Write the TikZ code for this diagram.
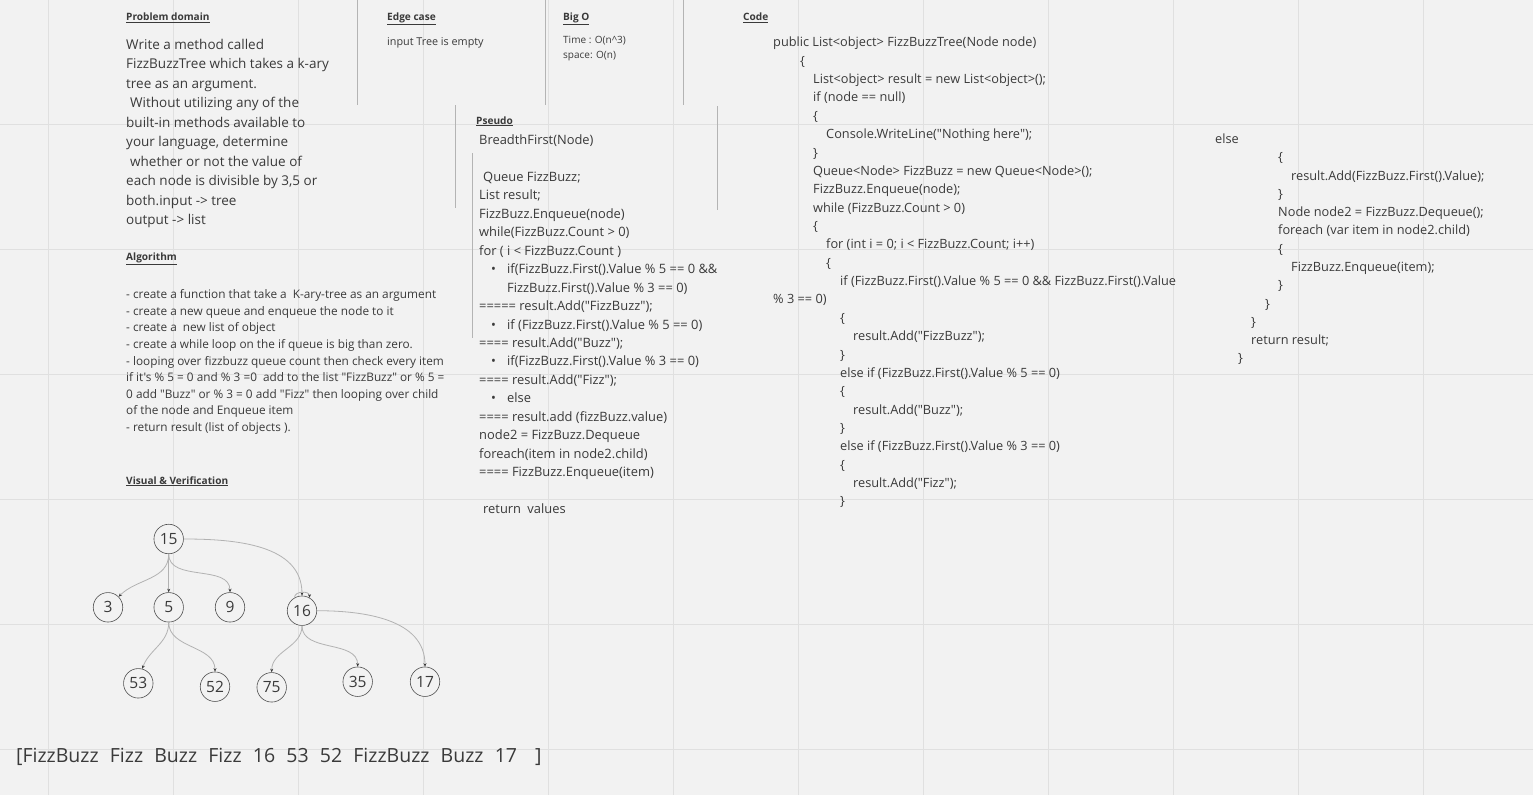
\documentclass[tikz,border=0pt]{standalone}
\usepackage{fontspec}
\setmainfont{Open Sans}[Ligatures=TeXOff]
\usepackage{tikz}
\usetikzlibrary{arrows.meta}
\definecolor{boardBg}{HTML}{F2F2F2}
\definecolor{boardGrid}{HTML}{E0E0E0}
\definecolor{boardRule}{HTML}{B4B4B4}
\definecolor{boardInk}{HTML}{3A3A3A}
\definecolor{boardEdge}{HTML}{B2B2B2}
\newcommand{\ind}[1]{\hspace*{#1pt}}
\newcommand{\bul}{\makebox[28pt][l]{\hspace*{12pt}\textbullet}}
\newcommand{\gap}{\hspace*{11.2pt}}

\begin{document}
\begin{tikzpicture}[x=1pt, y=1pt,
    every node/.style={inner sep=0pt, text=boardInk},
    heading/.style={anchor=base west, font=\fontsize{10.1}{12}\selectfont\bfseries},
    lineText/.style={anchor=base west},
    textBlock/.style={anchor=north west, align=left},
    treeNode/.style={circle, draw=boardInk!90, line width=0.6pt, fill=boardBg, minimum size=29.5pt, font=\fontsize{15.5}{16}\selectfont},
    treeEdge/.style={draw=boardEdge, line width=0.8pt, -{Stealth[length=3.5pt, width=3pt, color=boardInk]}},
    sepRule/.style={draw=boardRule, line width=1pt}]
    \fill[boardBg] (0,0) rectangle (1533,-795);
    \useasboundingbox (0,0) rectangle (1533,-795);
    % board grid
    \foreach \gx in {48,173,...,1423} \draw[boardGrid, line width=1pt] (\gx,0) -- (\gx,-795);
    \foreach \gy in {124,249,...,749} \draw[boardGrid, line width=1pt] (0,-\gy) -- (1533,-\gy);
    % separators
    \draw[sepRule] (357,0) -- (357,-105);
    \draw[sepRule] (545,0) -- (545,-105);
    \draw[sepRule] (683,0) -- (683,-105);
    \draw[sepRule] (455,-105) -- (455,-208);
    \draw[sepRule] (717,-106) -- (717,-210);
    \draw[sepRule] (472,-153) -- (472,-338);

    \node[heading] (problemHead) at (126,-20.5) {\underline{Problem domain}};
    \node[textBlock, font=\fontsize{13.5}{19.5}\selectfont] (problemText) at (126,-35.35) {\strut Write a method called\\
        FizzBuzzTree which takes a k-ary\\
        tree as an argument.\\
        \ind{4}Without utilizing any of the\\
        built-in methods available to\\
        your language, determine\\
        \ind{4}whether or not the value of\\
        each node is divisible by 3,5 or\\
        both.input -> tree\\
        output -> list};

    \node[heading] (edgeHead) at (387,-20.5) {\underline{Edge case}};
    \node[lineText, font=\fontsize{10.8}{13}\selectfont] (edgeText) at (387,-45.5) {input Tree is empty};

    \node[heading] (bigOHead) at (563,-20.5) {\underline{Big O}};
    \node[textBlock, font=\fontsize{10}{15}\selectfont] (bigOText) at (563,-33) {\strut Time : O(n\textasciicircum 3)\\ space: O(n)};

    \node[heading] (algoHead) at (126,-260) {\underline{Algorithm}};
    \node[textBlock, font=\fontsize{11.8}{16.66}\selectfont] (algoText) at (126,-286.5) {\strut - create a function that take a \ K-ary-tree as an argument\\
        - create a new queue and enqueue the node to it\\
        - create a \ new list of object\\
        - create a while loop on the if queue is big than zero.\\
        - looping over fizzbuzz queue count then check every item\\
        if it's \% 5 = 0 and \% 3 =0 \ add to the list "FizzBuzz" or \% 5 =\\
        0 add "Buzz" or \% 3 = 0 add "Fizz" then looping over child\\
        of the node and Enqueue item\\
        - return result (list of objects ).};

    \node[heading] (visualHead) at (126,-484) {\underline{Visual \& Verification}};

    \node[heading] (pseudoHead) at (476,-124) {\underline{Pseudo}};
    \node[textBlock, font=\fontsize{12.9}{18.43}\selectfont] (pseudoText) at (479,-131.6) {\strut BreadthFirst(Node)\\
        \mbox{}\\
        \ind{4}Queue FizzBuzz;\\
        List result;\\
        FizzBuzz.Enqueue(node)\\
        while(FizzBuzz.Count > 0)\\
        for ( i < FizzBuzz.Count )\\
        \bul if(FizzBuzz.First().Value \% 5 == 0 \&\&\\
        \ind{28}FizzBuzz.First().Value \% 3 == 0)\\
        ===== result.Add("FizzBuzz");\\
        \bul if (FizzBuzz.First().Value \% 5 == 0)\\
        ==== result.Add("Buzz");\\
        \bul if(FizzBuzz.First().Value \% 3 == 0)\\
        ==== result.Add("Fizz");\\
        \bul else\\
        ==== result.add (fizzBuzz.value)\\
        node2 = FizzBuzz.Dequeue\\
        foreach(item in node2.child)\\
        ==== FizzBuzz.Enqueue(item)\\
        \mbox{}\\
        \ind{4}return \ind{3}values};

    \node[heading] (codeHead) at (743,-20.5) {\underline{Code}};
    \node[textBlock, font=\fontsize{12.75}{18.36}\selectfont] (codeText) at (773,-33.85) {\strut public List<object> FizzBuzzTree(Node node)\\
        \ind{27}\{\\
        \ind{40}List<object> result = new List<object>();\\
        \ind{40}if (node == null)\\
        \ind{40}\{\\
        \ind{53}Console.WriteLine("Nothing here");\\
        \ind{40}\}\\
        \ind{40}Queue<Node> FizzBuzz = new Queue<Node>();\\
        \ind{40}FizzBuzz.Enqueue(node);\\
        \ind{40}while (FizzBuzz.Count > 0)\\
        \ind{40}\{\\
        \ind{53}for (int i = 0; i < FizzBuzz.Count; i++)\\
        \ind{53}\{\\
        \ind{67}if (FizzBuzz.First().Value \% 5 == 0 \&\& FizzBuzz.First().Value\\
        \% 3 == 0)\\
        \ind{67}\{\\
        \ind{80}result.Add("FizzBuzz");\\
        \ind{67}\}\\
        \ind{67}else if (FizzBuzz.First().Value \% 5 == 0)\\
        \ind{67}\{\\
        \ind{80}result.Add("Buzz");\\
        \ind{67}\}\\
        \ind{67}else if (FizzBuzz.First().Value \% 3 == 0)\\
        \ind{67}\{\\
        \ind{80}result.Add("Fizz");\\
        \ind{67}\}};
    \node[textBlock, font=\fontsize{12.75}{18.28}\selectfont] (codeTail) at (1215,-130.5) {\strut else\\
        \ind{63}\{\\
        \ind{76}result.Add(FizzBuzz.First().Value);\\
        \ind{63}\}\\
        \ind{63}Node node2 = FizzBuzz.Dequeue();\\
        \ind{63}foreach (var item in node2.child)\\
        \ind{63}\{\\
        \ind{76}FizzBuzz.Enqueue(item);\\
        \ind{63}\}\\
        \ind{50}\}\\
        \ind{36}\}\\
        \ind{36}return result;\\
        \ind{23}\}};

    % tree
    \node[treeNode] (n15) at (168.7,-539) {15};
    \node[treeNode] (n3) at (108,-607.3) {3};
    \node[treeNode] (n5) at (168.7,-607.3) {5};
    \node[treeNode] (n9) at (230,-607.3) {9};
    \node[treeNode] (n16) at (302,-610.7) {16};
    \node[treeNode] (n53) at (138.3,-683.3) {53};
    \node[treeNode] (n52) at (215,-686.7) {52};
    \node[treeNode] (n75) at (271.7,-687.3) {75};
    \node[treeNode] (n35) at (357.7,-681.7) {35};
    \node[treeNode] (n17) at (425,-681.7) {17};
    \draw[treeEdge] (n15.south) to[out=-90, in=45] (n3.north east);
    \draw[treeEdge] (n15.south) -- (n5.north);
    \draw[treeEdge] (n15.south) to[out=-90, in=90] (n9.north);
    \draw[treeEdge] (n15.east) to[out=0, in=90] (n16.north);
    \draw[treeEdge] (n16.120) .. controls +(0,7) and +(0,7) .. (n16.60);
    \draw[treeEdge] (n5.south) to[out=-90, in=70] (n53.75);
    \draw[treeEdge] (n5.south) to[out=-90, in=90] (n52.north);
    \draw[treeEdge] (n16.south) to[out=-90, in=90] (n75.north);
    \draw[treeEdge] (n16.south) to[out=-90, in=90] (n35.north);
    \draw[treeEdge] (n16.east) to[out=0, in=90] (n17.north);

    \node[lineText, font=\fontsize{19.5}{22}\selectfont] (resultList) at (16,-762) {[FizzBuzz\gap Fizz\gap Buzz\gap Fizz\gap 16\gap 53\gap 52\gap FizzBuzz\gap Buzz\gap 17\hspace*{18pt}]};
\end{tikzpicture}
\end{document}
